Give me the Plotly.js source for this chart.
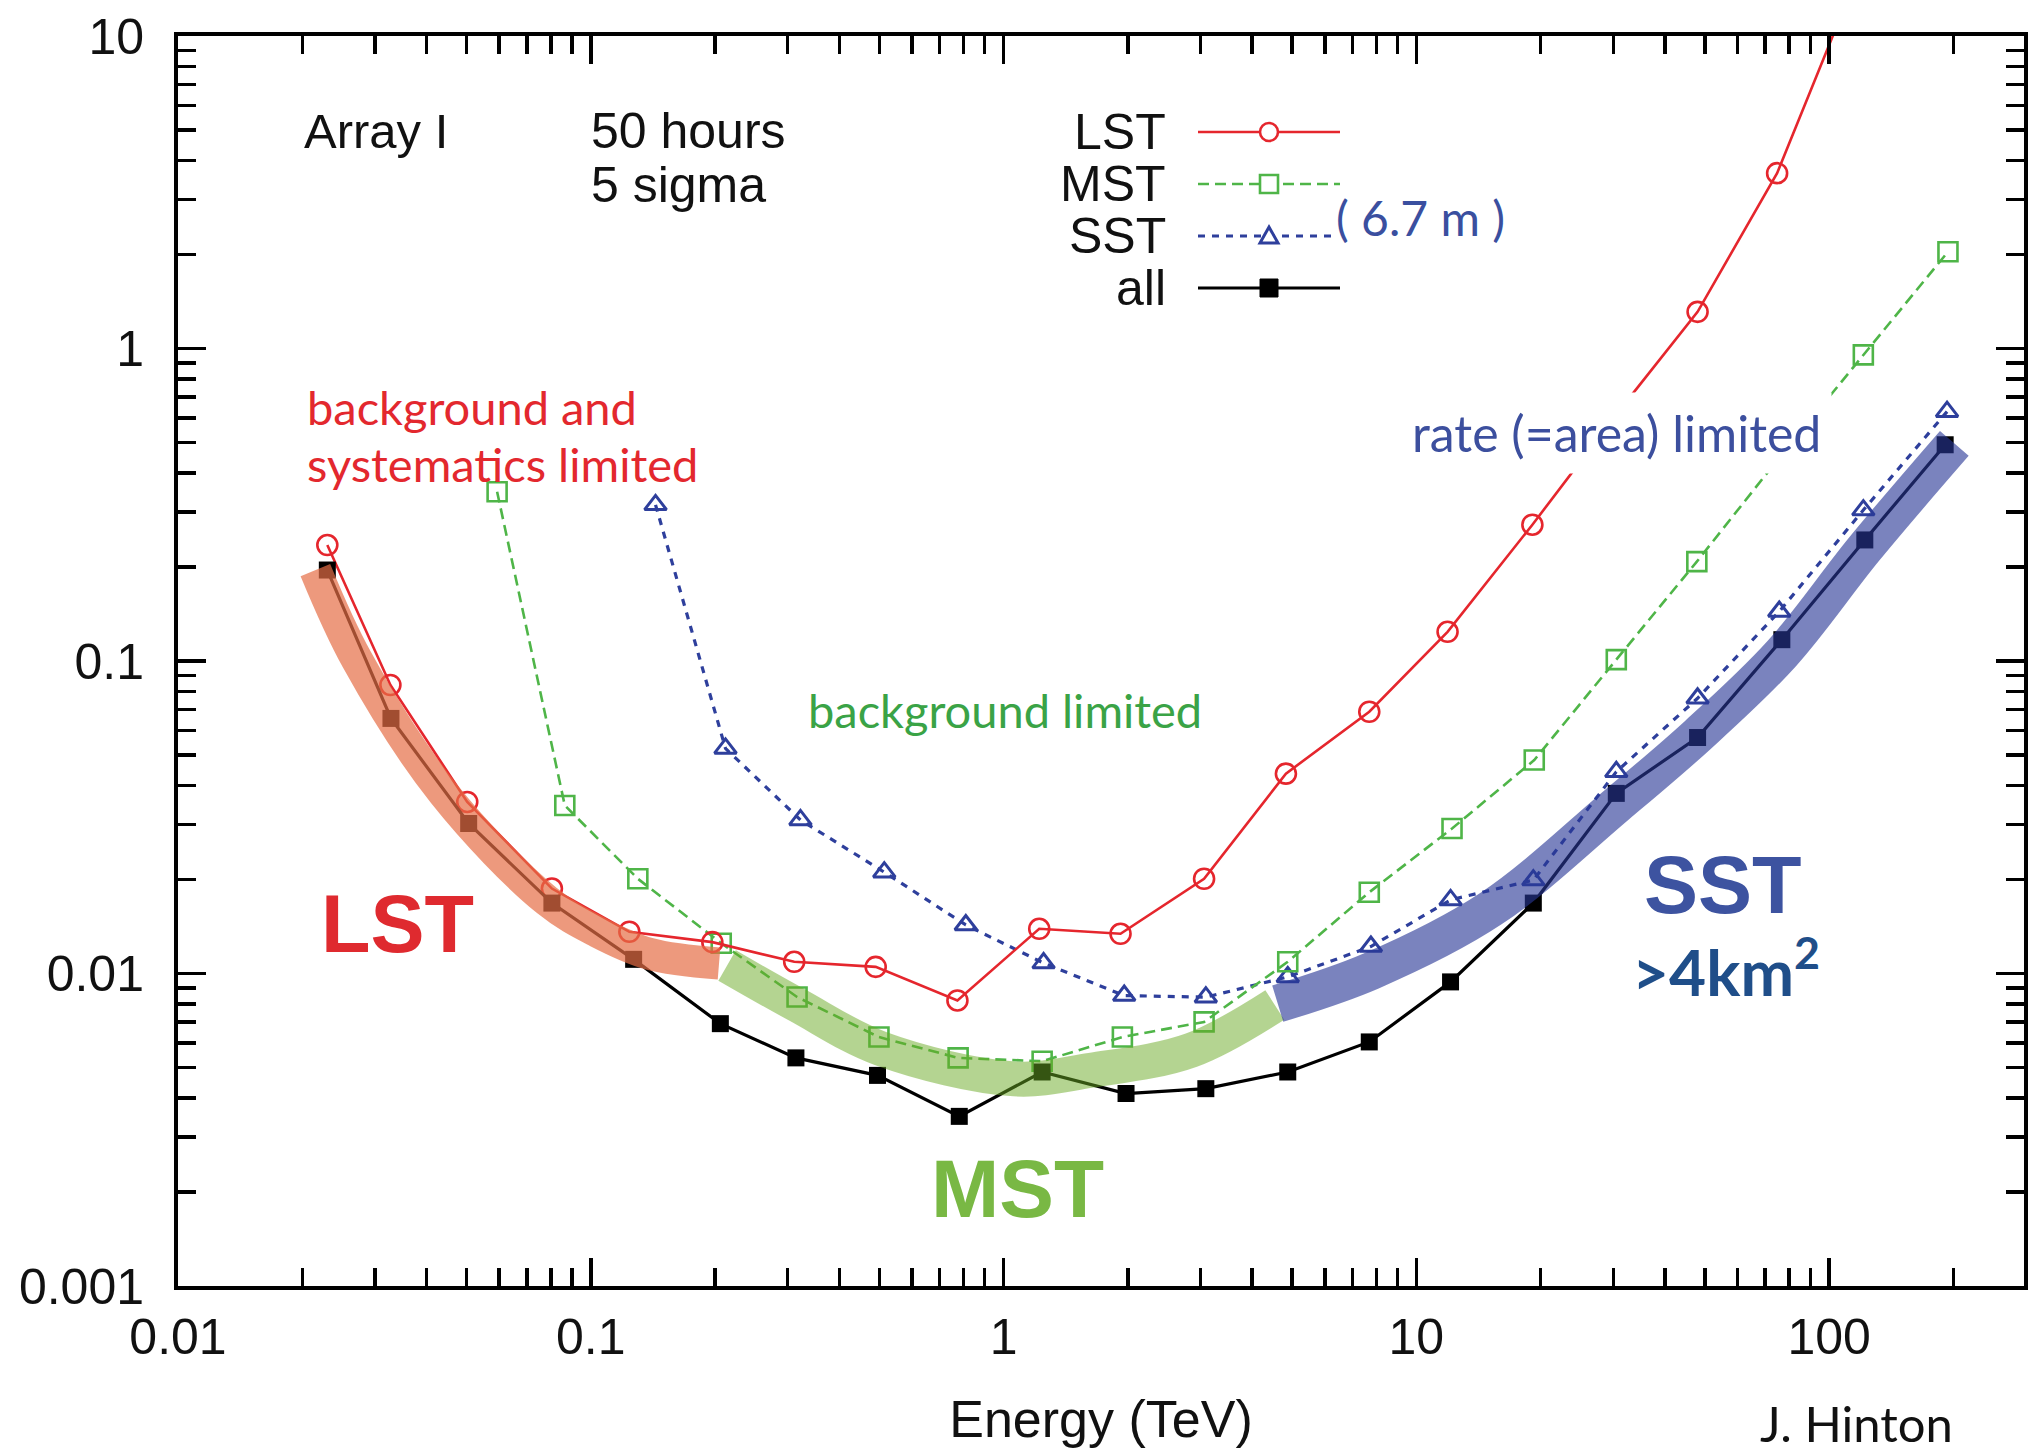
<!DOCTYPE html>
<html>
<head>
<meta charset="utf-8">
<script src="https://cdn.plot.ly/plotly-3.0.1.min.js"></script>
<style>html,body{margin:0;padding:0;background:#fff;}#chart{width:2034px;height:1454px;}</style>
</head>
<body>
<div id="chart"></div>
<script>
// ---------------- data ----------------
const lstEnergy = [0.0230, 0.0327, 0.0502, 0.0805, 0.124, 0.197, 0.311, 0.490, 0.773, 1.22, 1.92, 3.06, 4.83, 7.69, 11.9, 19.1, 30.4, 48.0, 74.8, 119];
const lstSens   = [0.235, 0.0838, 0.0354, 0.0187, 0.0136, 0.0126, 0.0109, 0.0105, 0.0082, 0.0139, 0.0134, 0.0201, 0.0436, 0.0688, 0.124, 0.273, 0.612, 1.31, 3.64, 16.5];

const mstEnergy = [0.0593, 0.0865, 0.130, 0.207, 0.316, 0.499, 0.776, 1.24, 1.94, 3.06, 4.88, 7.69, 12.2, 19.3, 30.5, 47.8, 75.7, 121, 194];
const mstSens   = [0.348, 0.0345, 0.0201, 0.0125, 0.00841, 0.00626, 0.00537, 0.00524, 0.00626, 0.0070, 0.0109, 0.0182, 0.0291, 0.0482, 0.101, 0.208, 0.447, 0.954, 2.04];

const sstEnergy = [0.1435, 0.212, 0.322, 0.514, 0.810, 1.25, 1.96, 3.09, 4.88, 7.76, 12.1, 19.2, 30.5, 48.0, 75.7, 121, 193];
const sstSens   = [0.316, 0.0525, 0.031, 0.0211, 0.0143, 0.0108, 0.0085, 0.0084, 0.00975, 0.0122, 0.0172, 0.0199, 0.0442, 0.076, 0.144, 0.304, 0.628];

const allEnergy = [0.023, 0.0328, 0.0506, 0.0805, 0.127, 0.206, 0.314, 0.495, 0.781, 1.24, 1.98, 3.09, 4.88, 7.69, 12.1, 19.2, 30.5, 48.0, 76.8, 122, 191];
const allSens   = [0.1955, 0.0655, 0.0302, 0.0168, 0.0111, 0.00691, 0.00537, 0.00472, 0.00349, 0.00484, 0.00413, 0.00428, 0.00484, 0.00604, 0.0094, 0.0168, 0.0377, 0.0569, 0.117, 0.244, 0.492];

// highlighted regimes (broad bands)
const lstBandEnergy = [0.02152, 0.02716, 0.04403, 0.0782, 0.1037, 0.1385, 0.2045];
const lstBandSens   = [0.1955, 0.1007, 0.0377, 0.01714, 0.01361, 0.01157, 0.01076];
const mstBandEnergy = [0.2139, 0.3167, 0.504, 1.061, 1.628, 2.845, 4.54];
const mstBandSens   = [0.01061, 0.00792, 0.00575, 0.0046, 0.0049, 0.00568, 0.00793];
const sstBandEnergy = [4.615, 7.77, 15.17, 30.5, 48.0, 76.8, 122, 201];
const sstBandSens   = [0.00801, 0.01019, 0.01614, 0.03455, 0.0579, 0.1057, 0.2294, 0.497];

// tick labels
const xTickVals = [0.01, 0.1, 1, 10, 100];
const xTickText = ['0.01', '0.1', '1', '10', '100'];
const yTickVals = [0.001, 0.01, 0.1, 1, 10];
const yTickText = ['0.001', '0.01', '0.1', '1', '10'];

const seriesNames = ['LST', 'MST', 'SST', 'all'];

// ---------------- styling ----------------
const RED = '#e5262d', GREEN = '#4fb548', BLUE = '#2e3f9c', BLACK = '#000000';
const HELV = '"Liberation Sans", Arial, Helvetica, sans-serif';
const CAL = 'Lato, "Open Sans", sans-serif';

const W = 2034, H = 1454;
const L = 178, R = 2024, T = 36, B = 1286;
const PX = fx => (fx - L) / (R - L);
const PY = fy => (B - fy) / (B - T);

function minorVals(lo, hi) {
  const out = [];
  for (let k = lo; k <= hi; k++) {
    for (let m = 2; m <= 9; m++) out.push(m * Math.pow(10, k));
  }
  return out;
}
const xMinor = minorVals(-2, 2).filter(v => v < 300);
const yMinor = minorVals(-3, 0);

const traces = [
  {x: sstEnergy, y: sstSens, name: seriesNames[2], type: 'scatter', mode: 'lines+markers',
   line: {color: BLUE, width: 3.2, dash: '7px,7px'},
   marker: {symbol: 'triangle-up-open', size: 19, color: BLUE, line: {color: BLUE, width: 3}}},
  {x: mstEnergy, y: mstSens, name: seriesNames[1], type: 'scatter', mode: 'lines+markers',
   line: {color: GREEN, width: 2.6, dash: '11px,6px'},
   marker: {symbol: 'square-open', size: 19, color: GREEN, line: {color: GREEN, width: 2.6}}},
  {x: lstEnergy, y: lstSens, name: seriesNames[0], type: 'scatter', mode: 'lines+markers',
   line: {color: RED, width: 2.6},
   marker: {symbol: 'circle-open', size: 20, color: RED, line: {color: RED, width: 2.6}}},
  {x: allEnergy, y: allSens, name: seriesNames[3], type: 'scatter', mode: 'lines+markers',
   line: {color: BLACK, width: 3.2},
   marker: {symbol: 'square', size: 17, color: BLACK}},
  {x: lstBandEnergy, y: lstBandSens, type: 'scatter', mode: 'lines', hoverinfo: 'skip',
   line: {color: 'rgba(230,110,70,0.7)', width: 32, shape: 'spline', smoothing: 1}},
  {x: mstBandEnergy, y: mstBandSens, type: 'scatter', mode: 'lines', hoverinfo: 'skip',
   line: {color: 'rgba(105,170,35,0.5)', width: 35, shape: 'spline', smoothing: 1}},
  {x: sstBandEnergy, y: sstBandSens, type: 'scatter', mode: 'lines', hoverinfo: 'skip',
   line: {color: 'rgba(40,55,150,0.62)', width: 38, shape: 'spline', smoothing: 1}}
];

// ---------------- legend (drawn by hand, labels left of samples) ----------------
const legRows = [
  {name: seriesNames[0], y: 132, color: RED, dash: 'solid', w: 2.6, x1: 1340},
  {name: seriesNames[1], y: 184, color: GREEN, dash: '11px,6px', w: 2.6, x1: 1340},
  {name: seriesNames[2], y: 236, color: BLUE, dash: '7px,7px', w: 3.2, x1: 1334},
  {name: seriesNames[3], y: 288, color: BLACK, dash: 'solid', w: 3.2, x1: 1340}
];
const shapes = [];
const annotations = [];
const mk = 1269;
legRows.forEach((r, i) => {
  shapes.push({type: 'line', xref: 'paper', yref: 'paper', x0: PX(1198), x1: PX(r.x1), y0: PY(r.y), y1: PY(r.y),
               line: {color: r.color, width: r.w, dash: r.dash}});
  annotations.push({text: r.name, xref: 'paper', yref: 'paper', x: PX(1168), y: PY(r.y), xanchor: 'right', yanchor: 'middle',
                    showarrow: false, font: {family: HELV, size: 50, color: '#111'}});
});
// legend symbols
shapes.push({type: 'circle', xref: 'paper', yref: 'paper', x0: PX(mk - 9), x1: PX(mk + 9), y0: PY(132 + 9), y1: PY(132 - 9),
             fillcolor: 'white', line: {color: RED, width: 2.6}});
shapes.push({type: 'rect', xref: 'paper', yref: 'paper', x0: PX(mk - 9), x1: PX(mk + 9), y0: PY(184 + 9), y1: PY(184 - 9),
             fillcolor: 'white', line: {color: GREEN, width: 2.6}});
shapes.push({type: 'path', xref: 'paper', yref: 'paper',
             path: 'M ' + PX(mk - 9) + ',' + PY(236 + 7) + ' L ' + PX(mk + 9) + ',' + PY(236 + 7) + ' L ' + PX(mk) + ',' + PY(236 - 9) + ' Z',
             fillcolor: 'white', line: {color: BLUE, width: 3}});
shapes.push({type: 'rect', xref: 'paper', yref: 'paper', x0: PX(mk - 9), x1: PX(mk + 9), y0: PY(288 + 9), y1: PY(288 - 9),
             fillcolor: BLACK, line: {color: BLACK, width: 1}});

function note(text, fx, fy, font, opts) {
  annotations.push(Object.assign({text: text, xref: 'paper', yref: 'paper', x: PX(fx), y: PY(fy),
    xanchor: 'left', yanchor: 'middle', showarrow: false, font: font}, opts || {}));
}
note('Array I', 302, 131, {family: HELV, size: 49, color: '#111'});
note('50 hours', 589, 131, {family: HELV, size: 50, color: '#111'});
note('5 sigma', 589, 185, {family: HELV, size: 50, color: '#111'});
note('( 6.7 m )', 1334, 218, {family: CAL, size: 48, color: '#3a4f9f'});
note('background and', 305, 407, {family: CAL, size: 47, color: '#e3282e'});
note('systematics limited', 305, 464, {family: CAL, size: 47, color: '#e3282e'});
note('background limited', 806, 710, {family: CAL, size: 47, color: '#3aa346'});
note('rate (=area) limited', 1401, 433, {family: CAL, size: 50, color: '#3c4f9e'},
     {bgcolor: 'white', borderpad: 10});
note('<b>LST</b>', 397, 924, {family: HELV, size: 81, color: '#df2a2f'}, {xanchor: 'center'});
note('<b>MST</b>', 1017, 1188, {family: HELV, size: 82, color: '#79b844'}, {xanchor: 'center'});
note('<b>SST</b>', 1723, 885, {family: HELV, size: 81, color: '#3d53a0'}, {xanchor: 'center'});
note('<b>&gt;4km<sup>2</sup></b>', 1726, 967, {family: CAL, size: 64, color: '#1f4e89'}, {xanchor: 'center'});
note('J. Hinton', 1758, 1454, {family: CAL, size: 49, color: '#111'}, {yanchor: 'bottom'});

const axisCommon = {
  type: 'log', showline: true, linewidth: 4, linecolor: '#000', mirror: 'ticks',
  ticks: 'inside', ticklen: 28, tickwidth: 3.5, tickcolor: '#000',
  tickmode: 'array', showgrid: false, zeroline: false, automargin: false,
  tickfont: {family: HELV, size: 50, color: '#111'}
};

const layout = {
  width: W, height: H,
  margin: {l: L, r: W - R, t: T, b: H - B, pad: 0},
  paper_bgcolor: '#ffffff', plot_bgcolor: '#ffffff',
  showlegend: false,
  font: {family: HELV, color: '#111'},
  xaxis: Object.assign({}, axisCommon, {
    range: [-2, 2.472], tickvals: xTickVals, ticktext: xTickText, ticklabelstandoff: 4,
    minor: {tickmode: 'array', tickvals: xMinor, ticks: 'inside', ticklen: 18, tickwidth: 3.5, tickcolor: '#000', showgrid: false},
    title: {text: 'Energy (TeV)', font: {family: HELV, size: 52, color: '#111'}, standoff: 38}
  }),
  yaxis: Object.assign({}, axisCommon, {
    range: [-3, 1], tickvals: yTickVals, ticktext: yTickText, ticklabelstandoff: 20,
    minor: {tickmode: 'array', tickvals: yMinor, ticks: 'inside', ticklen: 18, tickwidth: 3.5, tickcolor: '#000', showgrid: false}
  }),
  shapes: shapes,
  annotations: annotations
};

Plotly.newPlot('chart', traces, layout, {staticPlot: true, displayModeBar: false});
</script>
</body>
</html>
